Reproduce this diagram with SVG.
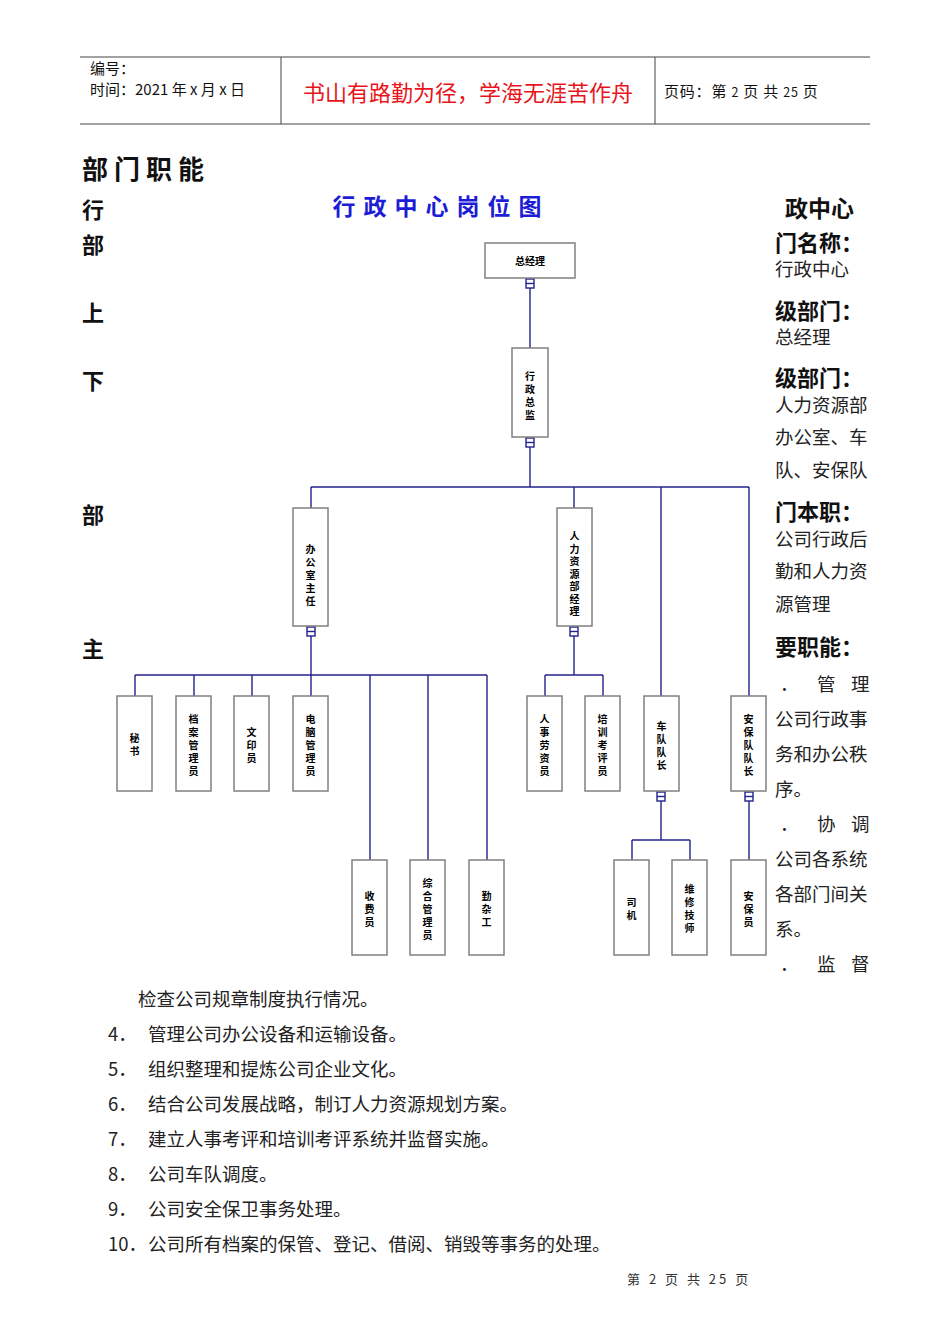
<svg xmlns="http://www.w3.org/2000/svg" width="950" height="1344" viewBox="0 0 950 1344">
<style>
text{font-family:"Noto Sans CJK SC","Liberation Sans",sans-serif;fill:#111}
.hd{font-size:15px}
.big{font-size:22px;font-weight:bold}
.body{font-size:18.5px;fill:#222}
.box{fill:#fff;stroke:#808080;stroke-width:1.5}
.ln{stroke:#22228a;stroke-width:1.4;fill:none}
.cn{fill:#fff;stroke:#22228a;stroke-width:1.4}
.nt{font-size:10px;font-weight:bold;text-anchor:middle;fill:#000}
.hl{stroke:#444;stroke-width:1}
</style>
<rect width="950" height="1344" fill="#fff"/>
<g id="header">
<line class="hl" x1="80" y1="57" x2="870" y2="57"/>
<line class="hl" x1="80" y1="124" x2="870" y2="124"/>
<line class="hl" x1="281" y1="57" x2="281" y2="124"/>
<line class="hl" x1="655" y1="57" x2="655" y2="124"/>
<text class="hd" x="90" y="74">编号：</text>
<text class="hd" x="90" y="95">时间：2021 年 x 月 x 日</text>
<text x="468" y="101" text-anchor="middle" style="font-size:22px;fill:#e8141b">书山有路勤为径，学海无涯苦作舟</text>
<text class="hd" x="664" y="97" style="letter-spacing:0.8px">页码：第 <tspan style="font-size:12.5px">2</tspan> 页  共 <tspan style="font-size:12.5px">25</tspan> 页</text>
</g>
<g id="left-column">
<text x="82" y="179" style="font-size:26px;font-weight:bold;letter-spacing:6px">部门职能</text>
<text class="big" x="82" y="218">行</text>
<text class="big" x="82" y="253">部</text>
<text class="big" x="82" y="321">上</text>
<text class="big" x="82" y="389">下</text>
<text class="big" x="82" y="523">部</text>
<text class="big" x="82" y="657">主</text>
</g>
<g id="right-column">
<text class="big" x="785" y="217" style="font-size:23px">政中心</text>
<text class="big" x="775" y="251">门名称：</text>
<text class="body" x="775" y="276">行政中心</text>
<text class="big" x="775" y="319">级部门：</text>
<text class="body" x="775" y="344">总经理</text>
<text class="big" x="775" y="386">级部门：</text>
<text class="body" x="775" y="412">人力资源部</text>
<text class="body" x="775" y="444">办公室、车</text>
<text class="body" x="775" y="477">队、安保队</text>
<text class="big" x="775" y="520">门本职：</text>
<text class="body" x="775" y="546">公司行政后</text>
<text class="body" x="775" y="578">勤和人力资</text>
<text class="body" x="775" y="611">源管理</text>
<text class="big" x="775" y="655">要职能：</text>
<text class="body" x="780" y="691">．</text><text class="body" x="817" y="691">管</text><text class="body" x="851" y="691">理</text>
<text class="body" x="775" y="726">公司行政事</text>
<text class="body" x="775" y="761">务和办公秩</text>
<text class="body" x="775" y="796">序。</text>
<text class="body" x="780" y="831">．</text><text class="body" x="817" y="831">协</text><text class="body" x="851" y="831">调</text>
<text class="body" x="775" y="866">公司各系统</text>
<text class="body" x="775" y="901">各部门间关</text>
<text class="body" x="775" y="936">系。</text>
<text class="body" x="780" y="971">．</text><text class="body" x="817" y="971">监</text><text class="body" x="851" y="971">督</text>
</g>
<g id="title">
<text x="441" y="215" text-anchor="middle" style="font-size:23px;font-weight:bold;fill:#1d1dd6;letter-spacing:8px">行政中心岗位图</text>
</g>
<g id="connectors">
<line class="ln" x1="530" y1="288" x2="530" y2="348"/>
<line class="ln" x1="530" y1="447" x2="530" y2="487"/>
<line class="ln" x1="311" y1="487" x2="749" y2="487"/>
<line class="ln" x1="311" y1="487" x2="311" y2="508"/>
<line class="ln" x1="574" y1="487" x2="574" y2="508"/>
<line class="ln" x1="661" y1="487" x2="661" y2="696"/>
<line class="ln" x1="749" y1="487" x2="749" y2="696"/>
<line class="ln" x1="311" y1="636" x2="311" y2="675"/>
<line class="ln" x1="135" y1="675" x2="487" y2="675"/>
<line class="ln" x1="135" y1="675" x2="135" y2="696"/>
<line class="ln" x1="194" y1="675" x2="194" y2="696"/>
<line class="ln" x1="252" y1="675" x2="252" y2="696"/>
<line class="ln" x1="311" y1="675" x2="311" y2="696"/>
<line class="ln" x1="370" y1="675" x2="370" y2="860"/>
<line class="ln" x1="428" y1="675" x2="428" y2="860"/>
<line class="ln" x1="487" y1="675" x2="487" y2="860"/>
<line class="ln" x1="574" y1="636" x2="574" y2="675"/>
<line class="ln" x1="545" y1="675" x2="603" y2="675"/>
<line class="ln" x1="545" y1="675" x2="545" y2="696"/>
<line class="ln" x1="603" y1="675" x2="603" y2="696"/>
<line class="ln" x1="661" y1="801" x2="661" y2="840"/>
<line class="ln" x1="632" y1="840" x2="690" y2="840"/>
<line class="ln" x1="632" y1="840" x2="632" y2="860"/>
<line class="ln" x1="690" y1="840" x2="690" y2="860"/>
<line class="ln" x1="749" y1="801" x2="749" y2="860"/>
<g id="handles">
<rect class="cn" x="526" y="279" width="8" height="9"/><line class="ln" x1="526" y1="283.5" x2="534" y2="283.5"/>
<rect class="cn" x="526" y="438" width="8" height="9"/><line class="ln" x1="526" y1="442.5" x2="534" y2="442.5"/>
<rect class="cn" x="307" y="627" width="8" height="9"/><line class="ln" x1="307" y1="631.5" x2="315" y2="631.5"/>
<rect class="cn" x="570" y="627" width="8" height="9"/><line class="ln" x1="570" y1="631.5" x2="578" y2="631.5"/>
<rect class="cn" x="657" y="792" width="8" height="9"/><line class="ln" x1="657" y1="796.5" x2="665" y2="796.5"/>
<rect class="cn" x="745" y="792" width="8" height="9"/><line class="ln" x1="745" y1="796.5" x2="753" y2="796.5"/>
</g>
</g>
<g id="n-zjl"><rect class="box" x="485" y="243" width="90" height="35"/><text class="nt" x="530" y="265">总经理</text></g>
<g id="n-xzzj"><rect class="box" x="512" y="348" width="36" height="89"/><text class="nt" x="530"><tspan x="530" y="380">行</tspan><tspan x="530" y="393">政</tspan><tspan x="530" y="406">总</tspan><tspan x="530" y="419">监</tspan></text></g>
<g id="n-bgszr"><rect class="box" x="293" y="508" width="35" height="118"/><text class="nt"><tspan x="310.5" y="553">办</tspan><tspan x="310.5" y="566">公</tspan><tspan x="310.5" y="579">室</tspan><tspan x="310.5" y="592">主</tspan><tspan x="310.5" y="605">任</tspan></text></g>
<g id="n-rlzy"><rect class="box" x="557" y="508" width="35" height="118"/><text class="nt"><tspan x="574.5" y="540">人</tspan><tspan x="574.5" y="552.5">力</tspan><tspan x="574.5" y="565">资</tspan><tspan x="574.5" y="577.5">源</tspan><tspan x="574.5" y="590">部</tspan><tspan x="574.5" y="602.5">经</tspan><tspan x="574.5" y="615">理</tspan></text></g>
<g id="n-ms"><rect class="box" x="117" y="696" width="35" height="95"/><text class="nt"><tspan x="134.5" y="742">秘</tspan><tspan x="134.5" y="755">书</tspan></text></g>
<g id="n-dagly"><rect class="box" x="176" y="696" width="35" height="95"/><text class="nt"><tspan x="193.5" y="723">档</tspan><tspan x="193.5" y="736">案</tspan><tspan x="193.5" y="749">管</tspan><tspan x="193.5" y="762">理</tspan><tspan x="193.5" y="775">员</tspan></text></g>
<g id="n-wyy"><rect class="box" x="234" y="696" width="35" height="95"/><text class="nt"><tspan x="251.5" y="736">文</tspan><tspan x="251.5" y="749">印</tspan><tspan x="251.5" y="762">员</tspan></text></g>
<g id="n-dngly"><rect class="box" x="293" y="696" width="35" height="95"/><text class="nt"><tspan x="310.5" y="723">电</tspan><tspan x="310.5" y="736">脑</tspan><tspan x="310.5" y="749">管</tspan><tspan x="310.5" y="762">理</tspan><tspan x="310.5" y="775">员</tspan></text></g>
<g id="n-rslzy"><rect class="box" x="527" y="696" width="35" height="95"/><text class="nt"><tspan x="544.5" y="723">人</tspan><tspan x="544.5" y="736">事</tspan><tspan x="544.5" y="749">劳</tspan><tspan x="544.5" y="762">资</tspan><tspan x="544.5" y="775">员</tspan></text></g>
<g id="n-pxkpy"><rect class="box" x="585" y="696" width="35" height="95"/><text class="nt"><tspan x="602.5" y="723">培</tspan><tspan x="602.5" y="736">训</tspan><tspan x="602.5" y="749">考</tspan><tspan x="602.5" y="762">评</tspan><tspan x="602.5" y="775">员</tspan></text></g>
<g id="n-cddz"><rect class="box" x="644" y="696" width="35" height="95"/><text class="nt"><tspan x="661.5" y="730">车</tspan><tspan x="661.5" y="743">队</tspan><tspan x="661.5" y="756">队</tspan><tspan x="661.5" y="769">长</tspan></text></g>
<g id="n-abddz"><rect class="box" x="731" y="696" width="35" height="95"/><text class="nt"><tspan x="748.5" y="723">安</tspan><tspan x="748.5" y="736">保</tspan><tspan x="748.5" y="749">队</tspan><tspan x="748.5" y="762">队</tspan><tspan x="748.5" y="775">长</tspan></text></g>
<g id="n-sfy"><rect class="box" x="352" y="860" width="35" height="95"/><text class="nt"><tspan x="369.5" y="900">收</tspan><tspan x="369.5" y="913">费</tspan><tspan x="369.5" y="926">员</tspan></text></g>
<g id="n-zhgly"><rect class="box" x="410" y="860" width="35" height="95"/><text class="nt"><tspan x="427.5" y="887">综</tspan><tspan x="427.5" y="900">合</tspan><tspan x="427.5" y="913">管</tspan><tspan x="427.5" y="926">理</tspan><tspan x="427.5" y="939">员</tspan></text></g>
<g id="n-qzg"><rect class="box" x="469" y="860" width="35" height="95"/><text class="nt"><tspan x="486.5" y="900">勤</tspan><tspan x="486.5" y="913">杂</tspan><tspan x="486.5" y="926">工</tspan></text></g>
<g id="n-sj"><rect class="box" x="614" y="860" width="35" height="95"/><text class="nt"><tspan x="631.5" y="906">司</tspan><tspan x="631.5" y="919">机</tspan></text></g>
<g id="n-wxjs"><rect class="box" x="672" y="860" width="35" height="95"/><text class="nt"><tspan x="689.5" y="893">维</tspan><tspan x="689.5" y="906">修</tspan><tspan x="689.5" y="919">技</tspan><tspan x="689.5" y="932">师</tspan></text></g>
<g id="n-aby"><rect class="box" x="731" y="860" width="35" height="95"/><text class="nt"><tspan x="748.5" y="900">安</tspan><tspan x="748.5" y="913">保</tspan><tspan x="748.5" y="926">员</tspan></text></g>
<g id="body-list">
<text class="body" x="138" y="1006">检查公司规章制度执行情况。</text>
<text class="body" x="108" y="1041">4．</text><text class="body" x="148" y="1041">管理公司办公设备和运输设备。</text>
<text class="body" x="108" y="1076">5．</text><text class="body" x="148" y="1076">组织整理和提炼公司企业文化。</text>
<text class="body" x="108" y="1111">6．</text><text class="body" x="148" y="1111">结合公司发展战略，制订人力资源规划方案。</text>
<text class="body" x="108" y="1146">7．</text><text class="body" x="148" y="1146">建立人事考评和培训考评系统并监督实施。</text>
<text class="body" x="108" y="1181">8．</text><text class="body" x="148" y="1181">公司车队调度。</text>
<text class="body" x="108" y="1216">9．</text><text class="body" x="148" y="1216">公司安全保卫事务处理。</text>
<text class="body" x="108" y="1251">10．</text><text class="body" x="148" y="1251">公司所有档案的保管、登记、借阅、销毁等事务的处理。</text>
</g>
<g id="footer">
<text x="627" y="1284" style="font-size:13px;fill:#333;letter-spacing:3px">第 2 页 共 25 页</text>
</g>
</svg>
